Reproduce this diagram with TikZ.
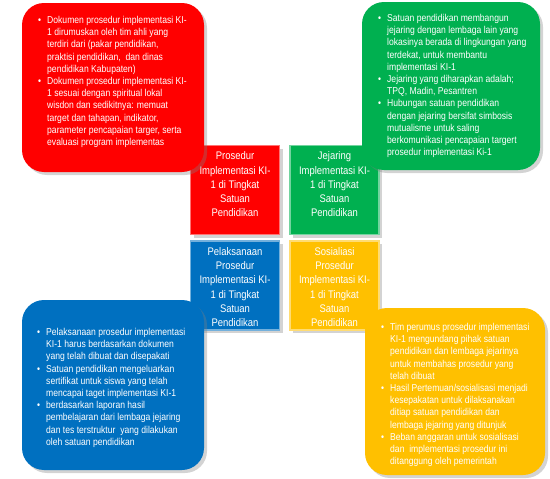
\documentclass[tikz,border=0pt]{standalone}
\usepackage{fontspec}
\setmainfont{Liberation Sans}[FakeStretch=0.86]
\usetikzlibrary{shadows}
\definecolor{cred}{HTML}{FF0000}
\definecolor{cgreen}{HTML}{00B050}
\definecolor{cblue}{HTML}{0070C0}
\definecolor{cyellow}{HTML}{FFC000}
\newcommand{\bul}{\makebox[9pt][l]{\textbullet}}
\newcommand{\ind}{\hspace*{9pt}}
\tikzset{
  every picture/.style={x=1pt, y=-1pt},
  square/.style={fill=#1, draw=#1!55!white, line width=1.5pt, minimum width=89pt, minimum height=89pt, inner sep=0pt,
    drop shadow={opacity=0.35, shadow xshift=3pt, shadow yshift=-3pt}},
  sqtext/.style={text=white, align=center, anchor=north, inner sep=0pt, font=\fontsize{11}{14.2}\selectfont},
  callout/.style={fill=#1, rounded corners=22pt, inner sep=0pt,
    drop shadow={opacity=0.35, shadow xshift=3pt, shadow yshift=-3pt}},
  note/.style={text=white, align=left, anchor=north west, inner sep=0pt, font=\fontsize{10}{12.2}\selectfont},
}
\begin{document}
\begin{tikzpicture}
  \useasboundingbox (0,0) rectangle (550,479);
  \node[square=cred] (redsq) at (235,190) {};
  \node[square=cgreen] (greensq) at (334.5,190) {};
  \node[square=cblue] (bluesq) at (235,285.5) {};
  \node[square=cyellow] (yellowsq) at (334.5,285.5) {};
  \node[sqtext] (redlbl) at ([yshift=-7pt]redsq.north) {Prosedur\\Implementasi KI-\\1 di Tingkat\\Satuan\\Pendidikan};
  \node[sqtext] (greenlbl) at ([yshift=-7pt]greensq.north) {Jejaring\\Implementasi KI-\\1 di Tingkat\\Satuan\\Pendidikan};
  \begin{scope}
    \clip ([shift={(1.5pt,1.5pt)}]bluesq.south west) rectangle ([shift={(-1.5pt,-1.5pt)}]yellowsq.north east);
    \node[sqtext] (bluelbl) at ([yshift=-7pt]bluesq.north) {Pelaksanaan\\Prosedur\\Implementasi KI-\\1 di Tingkat\\Satuan\\Pendidikan};
    \node[sqtext] (yellowlbl) at ([yshift=-7pt]yellowsq.north) {Sosialiasi\\Prosedur\\Implementasi KI-\\1 di Tingkat\\Satuan\\Pendidikan};
  \end{scope}
  \node[callout=cred, minimum width=182pt, minimum height=169pt] (redbox) at (113,87.5) {};
  \node[callout=cgreen, minimum width=178pt, minimum height=168pt] (greenbox) at (451,86) {};
  \node[callout=cblue, minimum width=182pt, minimum height=170pt] (bluebox) at (113,385) {};
  \node[callout=cyellow, minimum width=180pt, minimum height=167pt] (yellowbox) at (455,391.5) {};
  \node[note] (redtxt) at (38,16) {\bul Dokumen prosedur implementasi KI-\\\ind 1 dirumuskan oleh tim ahli yang\\\ind terdiri dari (pakar pendidikan,\\\ind praktisi pendidikan,\ \ dan dinas\\\ind pendidikan Kabupaten)\\\bul Dokumen prosedur implementasi KI-\\\ind 1 sesuai dengan spiritual lokal\\\ind wisdon dan sedikitnya: memuat\\\ind target dan tahapan, indikator,\\\ind parameter pencapaian targer, serta\\\ind evaluasi program implementas};
  \node[note] (greentxt) at (378,14) {\bul Satuan pendidikan membangun\\\ind jejaring dengan lembaga lain yang\\\ind lokasinya berada di lingkungan yang\\\ind terdekat, untuk membantu\\\ind implementasi KI-1\\\bul Jejaring yang diharapkan adalah;\\\ind TPQ, Madin, Pesantren\\\bul Hubungan satuan pendidikan\\\ind dengan jejaring bersifat simbosis\\\ind mutualisme untuk saling\\\ind berkomunikasi pencapaian targert\\\ind prosedur implementasi Ki-1};
  \node[note] (bluetxt) at (37,328) {\bul Pelaksanaan prosedur implementasi\\\ind KI-1 harus berdasarkan dokumen\\\ind yang telah dibuat dan disepakati\\\bul Satuan pendidikan mengeluarkan\\\ind sertifikat untuk siswa yang telah\\\ind mencapai taget implementasi KI-1\\\bul berdasarkan laporan hasil\\\ind pembelajaran dari lembaga jejaring\\\ind dan tes terstruktur\ \ yang dilakukan\\\ind oleh satuan pendidikan};
  \node[note] (yellowtxt) at (381,323) {\bul Tim perumus prosedur implementasi\\\ind KI-1 mengundang pihak satuan\\\ind pendidikan dan lembaga jejarinya\\\ind untuk membahas prosedur yang\\\ind telah dibuat\\\bul Hasil Pertemuan/sosialisasi menjadi\\\ind kesepakatan untuk dilaksanakan\\\ind ditiap satuan pendidikan dan\\\ind lembaga jejaring yang ditunjuk\\\bul Beban anggaran untuk sosialisasi\\\ind dan\ \ implementasi prosedur ini\\\ind ditanggung oleh pemerintah};
\end{tikzpicture}
\end{document}
